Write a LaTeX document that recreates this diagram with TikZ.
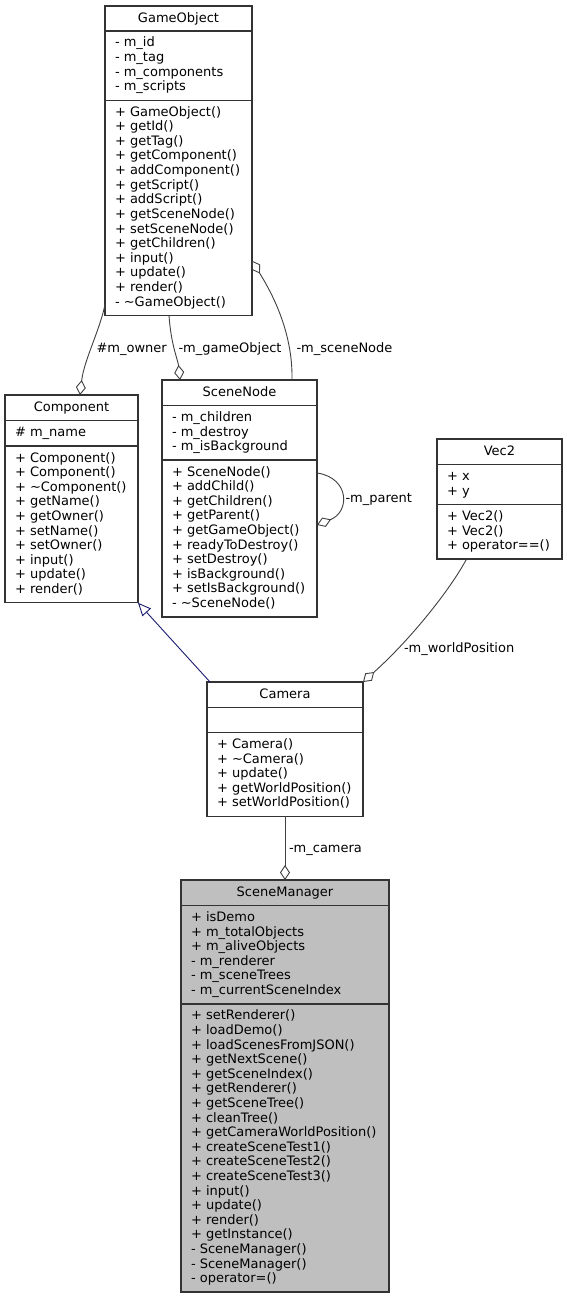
\documentclass[tikz,border=0pt]{standalone}
\usepackage{fontspec}
\setmainfont{DejaVu Sans}
\usetikzlibrary{arrows.meta}
\definecolor{edgegray}{HTML}{404040}
\definecolor{boxgray}{HTML}{333333}
\definecolor{inhblue}{HTML}{191970}
\definecolor{smfill}{HTML}{BFBFBF}
\newcommand\mklines[4]{\foreach \t [count=\i from 0] in {#4} {\node[txt] (#1\i) at (#2,{#3+14.6*\i}) {\t};}}
\newcommand\mkbox[8]{%
  \node[box, fill=#8, minimum width=#4pt, minimum height=#5pt] (#1) at (#2,#3) {};
  \draw[sepline] (#2,#6) -- ++(#4,0);
  \draw[sepline] (#2,#7) -- ++(#4,0);}
\begin{document}
\begin{tikzpicture}[x=1pt,y=-1pt,
  box/.style={draw=boxgray, line width=1.3pt, rectangle, inner sep=0pt, outer sep=0pt, anchor=north west},
  sepline/.style={draw=boxgray, line width=1.3pt},
  txt/.style={anchor=base west, inner sep=0pt, outer sep=0pt, font=\fontsize{13}{14.6}\selectfont},
  ttl/.style={anchor=base, inner sep=0pt, outer sep=0pt, font=\fontsize{13}{14.6}\selectfont},
  assoc/.style={draw=edgegray, line width=0.9pt, -{Diamond[open, length=15pt, width=10pt, line width=0.9pt]}},
  inherit/.style={draw=inhblue, line width=0.9pt, -{Triangle[open, length=13pt, width=11.5pt, line width=0.9pt]}},
]
\useasboundingbox (0,0) rectangle (567,1300);
\fill[white] (0,0) rectangle (567,1300);

% GameObject
\mkbox{go}{105}{6}{147}{309.4}{31}{100.2}{white}
\node[ttl] (go-t) at (178.5,22.5) {GameObject};
\mklines{go-a}{115}{47}{- m\_id, - m\_tag, - m\_components, - m\_scripts}
\mklines{go-m}{115}{116.2}{+ GameObject(), + getId(), + getTag(), + getComponent(), + addComponent(), + getScript(), + addScript(), + getSceneNode(), + setSceneNode(), + getChildren(), + input(), + update(), + render(), - \textasciitilde GameObject()}

% Component
\mkbox{cmp}{5}{395}{133}{207.8}{420.5}{446}{white}
\node[ttl] (cmp-t) at (71.5,411.5) {Component};
\mklines{cmp-a}{15}{436.5}{\# m\_name}
\mklines{cmp-m}{15}{462}{+ Component(), + Component(), + \textasciitilde Component(), + getName(), + getOwner(), + setName(), + setOwner(), + input(), + update(), + render()}

% SceneNode
\mkbox{sn}{162}{380}{155}{236.9}{405.5}{460.1}{white}
\node[ttl] (sn-t) at (239.5,396.5) {SceneNode};
\mklines{sn-a}{172}{421.5}{- m\_children, - m\_destroy, - m\_isBackground}
\mklines{sn-m}{172}{476.1}{+ SceneNode(), + addChild(), + getChildren(), + getParent(), + getGameObject(), + readyToDestroy(), + setDestroy(), + isBackground(), + setIsBackground(), - \textasciitilde SceneNode()}

% Vec2
\mkbox{v2}{437}{439}{125}{120.1}{464.5}{504.5}{white}
\node[ttl] (v2-t) at (499.5,455.5) {Vec2};
\mklines{v2-a}{447}{480.5}{+ x, + y}
\mklines{v2-m}{447}{520.5}{+ Vec2(), + Vec2(), + operator==()}

% Camera
\mkbox{cam}{207}{682}{156}{134.3}{707.5}{732.5}{white}
\node[ttl] (cam-t) at (285,698.5) {Camera};
\mklines{cam-m}{217}{748.5}{+ Camera(), + \textasciitilde Camera(), + update(), + getWorldPosition(), + setWorldPosition()}

% SceneManager
\mkbox{sm}{181}{880}{208}{412.1}{905.5}{1003.9}{smfill}
\node[ttl] (sm-t) at (285,896.5) {SceneManager};
\mklines{sm-a}{191}{921.5}{+ isDemo, + m\_totalObjects, + m\_aliveObjects, - m\_renderer, - m\_sceneTrees, - m\_currentSceneIndex}
\mklines{sm-m}{191}{1019.9}{+ setRenderer(), + loadDemo(), + loadScenesFromJSON(), + getNextScene(), + getSceneIndex(), + getRenderer(), + getSceneTree(), + cleanTree(), + getCameraWorldPosition(), + createSceneTest1(), + createSceneTest2(), + createSceneTest3(), + input(), + update(), + render(), + getInstance(), - SceneManager(), - SceneManager(), - operator=()}

% connectors
\draw[assoc] ([yshift=11pt]go.south west) .. controls (100,330) and (84,360) .. ([xshift=8.5pt]cmp.north);
\node[txt] (l-owner) at (96.5,352) {\#m\_owner};

\draw[assoc] ([xshift=-9.5pt]go.south) .. controls (171,345) and (178,360) .. ([xshift=-59.5pt]sn.north);
\node[txt] (l-go) at (178.5,352) {-m\_gameObject};

\draw[assoc] ([xshift=52.5pt]sn.north) .. controls (293,330) and (270,290) .. ([yshift=-100pt]go.east);
\node[txt] (l-sn) at (296.5,352) {-m\_sceneNode};

\draw[assoc] ([yshift=25.5pt]sn.east) .. controls (350,478) and (350,512) .. ([yshift=-26.5pt]sn.east);
\node[txt] (l-parent) at (345.5,502.5) {-m\_parent};

\draw[inherit] ([xshift=3pt]cam.north west) -- (cmp.south east);

\draw[assoc] ([xshift=-33pt]v2.south) .. controls (450,590) and (410,640) .. (cam.north east);
\node[txt] (l-wp) at (404,652.5) {-m\_worldPosition};

\draw[assoc] (cam.south) -- (sm.north);
\node[txt] (l-cam) at (289,852) {-m\_camera};
\end{tikzpicture}
\end{document}
